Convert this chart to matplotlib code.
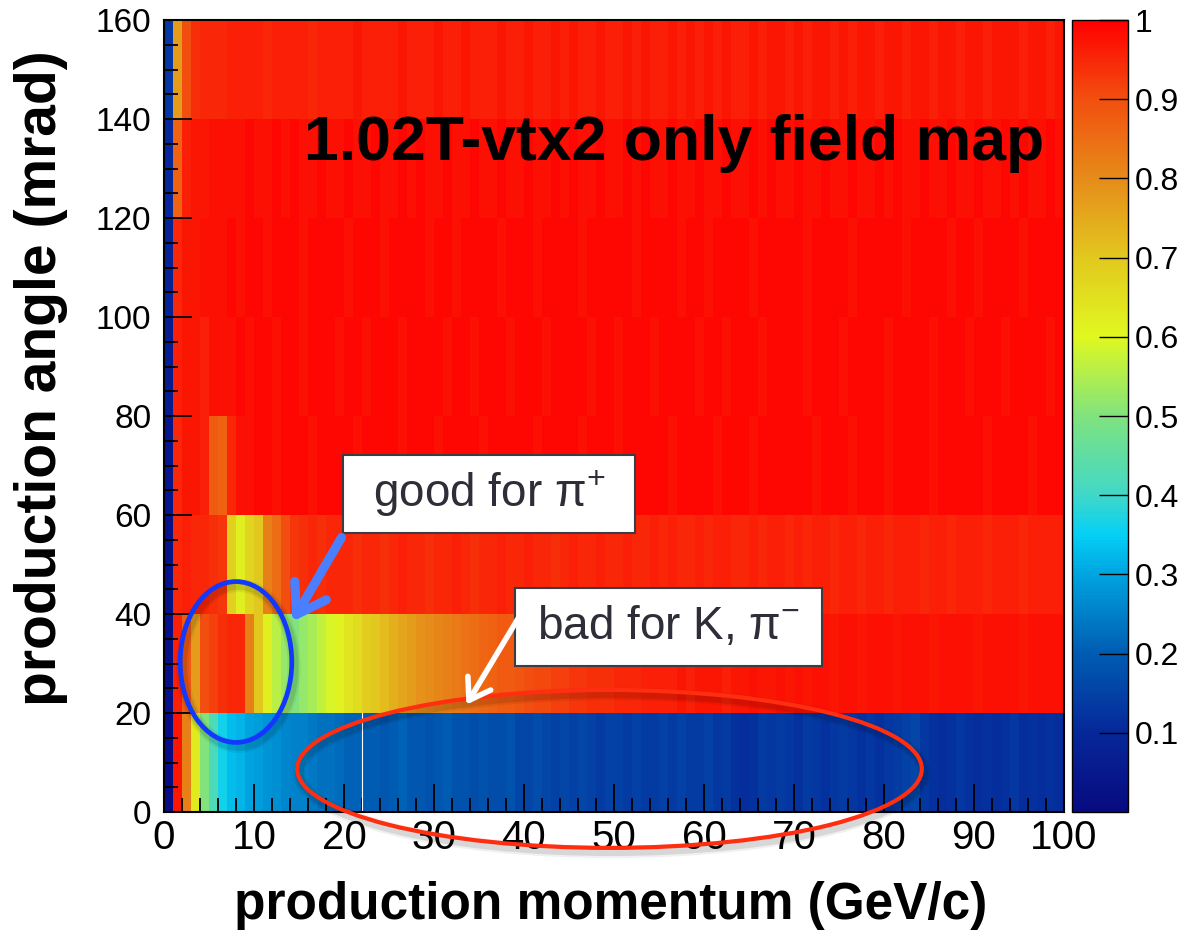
import numpy as np
import matplotlib.pyplot as plt
from matplotlib.colors import LinearSegmentedColormap
from matplotlib.patches import Ellipse, Rectangle, FancyArrowPatch

plt.rcParams['font.family'] = ['Liberation Sans', 'DejaVu Sans']
plt.rcParams['mathtext.fontset'] = 'custom'
plt.rcParams['mathtext.rm'] = 'Liberation Sans'
plt.rcParams['mathtext.it'] = 'Liberation Sans'

# bin edges
p_edges = np.arange(0, 101, 1)        # production momentum (GeV/c)
theta_edges = np.arange(0, 161, 20)   # production angle (mrad)

# efficiency per bin, one list per angle row (100 momentum bins each)
row_0_20 = [0.01, 0.97, 0.82, 0.63, 0.50, 0.42, 0.36, 0.33, 0.32, 0.30,
            0.29, 0.28, 0.27, 0.26, 0.25, 0.25, 0.24, 0.23, 0.23, 0.22,
            0.21, 0.21, 0.20, 0.20, 0.19, 0.20, 0.21, 0.19, 0.19, 0.18,
            0.19, 0.20, 0.18, 0.18, 0.17, 0.18, 0.17, 0.17, 0.18, 0.16,
            0.16, 0.17, 0.16, 0.15, 0.16, 0.15, 0.16, 0.15, 0.14, 0.15,
            0.15, 0.14, 0.15, 0.14, 0.14, 0.15, 0.14, 0.15, 0.14, 0.14,
            0.15, 0.13, 0.14, 0.12, 0.11, 0.12, 0.14, 0.13, 0.14, 0.13,
            0.12, 0.14, 0.13, 0.12, 0.13, 0.14, 0.13, 0.12, 0.13, 0.12,
            0.13, 0.14, 0.15, 0.16, 0.13, 0.12, 0.11, 0.12, 0.13, 0.12,
            0.11, 0.12, 0.11, 0.12, 0.13, 0.11, 0.12, 0.11, 0.12, 0.11]
row_20_40 = [0.02, 0.96, 0.88, 0.77, 0.90, 0.92, 0.94, 0.95, 0.95, 0.82,
             0.70, 0.62, 0.56, 0.52, 0.50, 0.52, 0.54, 0.57, 0.59, 0.61,
             0.64, 0.66, 0.69, 0.70, 0.72, 0.74, 0.76, 0.77, 0.79, 0.80,
             0.81, 0.82, 0.83, 0.84, 0.85, 0.86, 0.87, 0.88, 0.88, 0.89,
             0.90, 0.91, 0.91, 0.92, 0.92, 0.93, 0.93, 0.94, 0.94, 0.94,
             0.95, 0.95, 0.95, 0.96, 0.96, 0.96, 0.96, 0.97, 0.96, 0.97,
             0.97, 0.97, 0.96, 0.97, 0.97, 0.98, 0.97, 0.97, 0.98, 0.97,
             0.98, 0.97, 0.98, 0.98, 0.97, 0.98, 0.98, 0.97, 0.98, 0.98,
             0.98, 0.97, 0.98, 0.98, 0.98, 0.97, 0.98, 0.98, 0.98, 0.98,
             0.97, 0.98, 0.98, 0.98, 0.98, 0.97, 0.98, 0.98, 0.98, 0.98]
row_40_60 = [0.03, 0.95, 0.96, 0.95, 0.95, 0.94, 0.93, 0.68, 0.62, 0.67,
             0.70, 0.82, 0.85, 0.90, 0.93, 0.94, 0.95, 0.94, 0.95, 0.95,
             0.95, 0.94, 0.95, 0.95, 0.94, 0.95, 0.96, 0.95, 0.95, 0.94,
             0.95, 0.95, 0.96, 0.95, 0.94, 0.95, 0.95, 0.96, 0.95, 0.95,
             0.96, 0.95, 0.95, 0.94, 0.95, 0.96, 0.95, 0.95, 0.96, 0.95,
             0.95, 0.96, 0.95, 0.95, 0.96, 0.95, 0.96, 0.95, 0.95, 0.96,
             0.95, 0.96, 0.96, 0.95, 0.95, 0.96, 0.95, 0.96, 0.96, 0.95,
             0.96, 0.95, 0.96, 0.96, 0.95, 0.96, 0.96, 0.95, 0.96, 0.96,
             0.95, 0.96, 0.96, 0.96, 0.95, 0.96, 0.96, 0.95, 0.96, 0.96,
             0.96, 0.95, 0.96, 0.96, 0.96, 0.95, 0.96, 0.96, 0.96, 0.96]
row_60_80 = [0.04, 0.95, 0.97, 0.97, 0.96, 0.88, 0.87, 0.95, 0.98, 0.98,
             0.99, 0.99, 0.98, 0.99, 0.99, 0.99, 0.98, 0.99, 0.99, 0.99,
             0.99, 0.98, 0.99, 0.99, 0.99, 0.99, 0.98, 0.99, 0.99, 0.99,
             0.98, 0.99, 0.99, 0.99, 0.99, 0.98, 0.99, 0.99, 0.99, 0.99,
             0.99, 0.98, 0.99, 0.99, 0.99, 0.99, 0.98, 0.99, 0.99, 0.99,
             0.98, 0.99, 0.99, 0.99, 0.99, 0.99, 0.98, 0.99, 0.99, 0.99,
             0.99, 0.98, 0.99, 0.99, 0.99, 0.98, 0.99, 0.99, 0.99, 0.99,
             0.99, 0.99, 0.98, 0.99, 0.99, 0.99, 0.98, 0.99, 0.99, 0.99,
             0.98, 0.99, 0.99, 0.99, 0.99, 0.98, 0.99, 0.99, 0.99, 0.99,
             0.99, 0.98, 0.99, 0.99, 0.99, 0.99, 0.98, 0.99, 0.99, 0.99]
row_80_100 = [0.06, 0.96, 0.97, 0.97, 0.96, 0.98, 0.98, 0.98, 0.99, 0.98,
              0.99, 0.99, 0.98, 0.99, 0.99, 0.98, 0.99, 0.99, 0.99, 0.98,
              0.99, 0.99, 0.98, 0.99, 0.99, 0.99, 0.98, 0.99, 0.99, 0.99,
              0.99, 0.98, 0.99, 0.99, 0.98, 0.99, 0.99, 0.99, 0.98, 0.99,
              0.99, 0.99, 0.98, 0.99, 0.99, 0.99, 0.99, 0.98, 0.99, 0.99,
              0.98, 0.99, 0.99, 0.99, 0.98, 0.99, 0.99, 0.99, 0.99, 0.98,
              0.99, 0.99, 0.98, 0.99, 0.99, 0.99, 0.98, 0.99, 0.99, 0.99,
              0.99, 0.98, 0.99, 0.99, 0.99, 0.98, 0.99, 0.99, 0.99, 0.99,
              0.98, 0.99, 0.99, 0.99, 0.99, 0.98, 0.99, 0.99, 0.99, 0.98,
              0.99, 0.99, 0.99, 0.98, 0.99, 0.99, 0.99, 0.99, 0.98, 0.99]
row_100_120 = [0.08, 0.95, 0.97, 0.97, 0.98, 0.98, 0.98, 0.99, 0.98, 0.99,
               0.99, 0.98, 0.99, 0.99, 0.99, 0.98, 0.99, 0.99, 0.99, 0.99,
               0.98, 0.99, 0.99, 0.99, 0.98, 0.99, 0.99, 0.99, 0.99, 0.98,
               0.99, 0.99, 0.98, 0.99, 0.99, 0.99, 0.99, 0.98, 0.99, 0.99,
               0.99, 0.98, 0.99, 0.99, 0.99, 0.99, 0.98, 0.99, 0.99, 0.99,
               0.99, 0.99, 0.98, 0.99, 0.99, 0.99, 0.99, 0.98, 0.99, 0.99,
               0.98, 0.99, 0.99, 0.99, 0.99, 0.98, 0.99, 0.99, 0.99, 0.99,
               0.99, 0.98, 0.99, 0.99, 0.99, 0.99, 0.98, 0.99, 0.99, 0.99,
               0.99, 0.99, 0.98, 0.99, 0.99, 0.99, 0.99, 0.98, 0.99, 0.99,
               0.98, 0.99, 0.99, 0.99, 0.99, 0.98, 0.99, 0.99, 0.99, 0.99]
row_120_140 = [0.10, 0.87, 0.96, 0.97, 0.97, 0.98, 0.98, 0.98, 0.98, 0.99,
               0.98, 0.98, 0.99, 0.98, 0.99, 0.98, 0.98, 0.99, 0.98, 0.98,
               0.99, 0.98, 0.98, 0.99, 0.98, 0.98, 0.99, 0.98, 0.99, 0.98,
               0.98, 0.99, 0.98, 0.98, 0.99, 0.98, 0.98, 0.99, 0.98, 0.98,
               0.99, 0.98, 0.98, 0.99, 0.98, 0.99, 0.98, 0.98, 0.99, 0.98,
               0.98, 0.99, 0.98, 0.99, 0.98, 0.98, 0.99, 0.98, 0.98, 0.99,
               0.98, 0.98, 0.99, 0.98, 0.98, 0.99, 0.98, 0.99, 0.98, 0.98,
               0.99, 0.98, 0.98, 0.99, 0.98, 0.98, 0.99, 0.98, 0.98, 0.99,
               0.98, 0.99, 0.98, 0.98, 0.99, 0.98, 0.98, 0.99, 0.98, 0.98,
               0.99, 0.98, 0.98, 0.99, 0.98, 0.99, 0.98, 0.98, 0.99, 0.98]
row_140_160 = [0.13, 0.77, 0.90, 0.94, 0.95, 0.95, 0.95, 0.96, 0.96, 0.96,
               0.96, 0.95, 0.96, 0.96, 0.96, 0.96, 0.95, 0.96, 0.96, 0.96,
               0.96, 0.97, 0.96, 0.96, 0.96, 0.96, 0.97, 0.96, 0.96, 0.96,
               0.97, 0.96, 0.96, 0.97, 0.96, 0.96, 0.96, 0.97, 0.96, 0.96,
               0.97, 0.96, 0.96, 0.97, 0.96, 0.97, 0.96, 0.96, 0.97, 0.96,
               0.96, 0.97, 0.96, 0.97, 0.96, 0.96, 0.97, 0.96, 0.97, 0.96,
               0.97, 0.96, 0.97, 0.96, 0.96, 0.97, 0.96, 0.97, 0.97, 0.96,
               0.97, 0.96, 0.97, 0.97, 0.96, 0.97, 0.96, 0.97, 0.97, 0.96,
               0.97, 0.97, 0.96, 0.97, 0.97, 0.96, 0.97, 0.97, 0.96, 0.97,
               0.97, 0.96, 0.97, 0.97, 0.97, 0.96, 0.97, 0.97, 0.96, 0.97]

eff = np.array([row_0_20, row_20_40, row_40_60, row_60_80,
                row_80_100, row_100_120, row_120_140, row_140_160])

cbar_ticks = [0.1, 0.2, 0.3, 0.4, 0.5, 0.6, 0.7, 0.8, 0.9, 1.0]
cbar_labels = ['0.1', '0.2', '0.3', '0.4', '0.5', '0.6', '0.7', '0.8', '0.9', '1']

# palette (sampled from the colour bar)
pal_pos = [0.0, 0.1, 0.2, 0.3, 0.35, 0.4, 0.5, 0.6, 0.7, 0.8, 0.9, 1.0]
pal_col = ['#080a80', '#06289a', '#005cb2', '#00a4e0', '#05d0f5', '#40d8c8',
           '#80e37e', '#e0f820', '#e2c81e', '#e68c1a', '#f2500f', '#ff0000']
cmap = LinearSegmentedColormap.from_list('root_pal', list(zip(pal_pos, pal_col)), N=256)

W, H = 1185, 939
fig = plt.figure(figsize=(W / 100, H / 100), dpi=100)
ax = fig.add_axes([164 / W, 1 - 812 / H, 900 / W, 792 / H])
cax = fig.add_axes([1072 / W, 1 - 812 / H, 56 / W, 792 / H])

mesh = ax.pcolormesh(p_edges, theta_edges, eff, cmap=cmap, vmin=0, vmax=1,
                     antialiased=False, linewidth=0)
ax.plot([22, 22], [0, 20], color='white', lw=0.8)

ax.set_xlim(0, 100)
ax.set_ylim(0, 160)
ax.set_xticks(np.arange(0, 101, 10))
ax.set_xticks(np.arange(0, 101, 2), minor=True)
ax.set_yticks(np.arange(0, 161, 20))
ax.set_yticks(np.arange(0, 161, 5), minor=True)
ax.tick_params(which='both', direction='in', top=False, right=False, width=1.3)
ax.tick_params(which='major', length=20)
ax.tick_params(which='minor', length=10)
ax.tick_params(axis='x', labelsize=29, pad=5)
ax.tick_params(axis='y', labelsize=24, pad=9)
for s in ax.spines.values():
    s.set_linewidth(1.5)

cb = fig.colorbar(mesh, cax=cax, ticks=cbar_ticks)
cb.ax.set_yticklabels(cbar_labels)
cb.ax.tick_params(direction='in', length=21, width=1.0, labelsize=23, pad=5)
cb.outline.set_linewidth(1.0)

fig.text(611 / W, 1 - 906 / H, 'production momentum (GeV/c)', fontsize=37,
         fontweight='bold', ha='center', va='center')
fig.text(41 / W, 1 - 378 / H, 'production angle (mrad)', fontsize=41,
         fontweight='bold', ha='center', va='center', rotation=90)
fig.text(674 / W, 1 - 160 / H, '1.02T-vtx2 only field map', fontsize=45,
         fontweight='bold', ha='center', va='baseline')

# annotation boxes
for (x0, y0, x1, y1, label) in [(343, 455, 635, 533, r'good for π$^{+}$'),
                                 (515, 588, 822, 666, r'bad for K, π$^{-}$')]:
    fig.add_artist(Rectangle((x0 / W, 1 - y1 / H), (x1 - x0) / W, (y1 - y0) / H,
                             transform=fig.transFigure, facecolor='white',
                             edgecolor='#3c3c44', lw=1.5, zorder=5))
    fig.text((x0 + x1) / 2 / W, 1 - (y0 + y1) / 2 / H, label, fontsize=33,
             color='#2e2e38', ha='center', va='center', zorder=6)

# ellipses with a soft shadow
for (cx, cy, w, h, col, lw) in [(8.0, 30.3, 12.4, 32.5, '#1237ff', 3.4),
                                (49.5, 8.7, 69.4, 31.9, '#ff2e10', 3.0)]:
    for extra, a in [(6, 0.06), (3, 0.10)]:
        ax.add_patch(Ellipse((cx + 0.25, cy - 0.8), w, h, fill=False,
                             edgecolor='black', alpha=a, lw=lw + extra,
                             zorder=3, clip_on=False))
    ax.add_patch(Ellipse((cx, cy), w, h, fill=False, edgecolor=col,
                         lw=lw, zorder=4, clip_on=False))

# arrows
fig.add_artist(FancyArrowPatch((343 / W, 1 - 535 / H), (291 / W, 1 - 624 / H),
                               transform=fig.transFigure, color='#4a80ff', lw=6.5,
                               arrowstyle='->,head_length=0.5,head_width=0.33',
                               mutation_scale=40, capstyle='round', zorder=6))
fig.add_artist(FancyArrowPatch((522 / W, 1 - 612 / H), (465 / W, 1 - 707 / H),
                               transform=fig.transFigure, color='white', lw=4,
                               arrowstyle='->,head_length=0.45,head_width=0.3',
                               mutation_scale=32, capstyle='round', zorder=6))

fig.savefig('out.png', dpi=100)
